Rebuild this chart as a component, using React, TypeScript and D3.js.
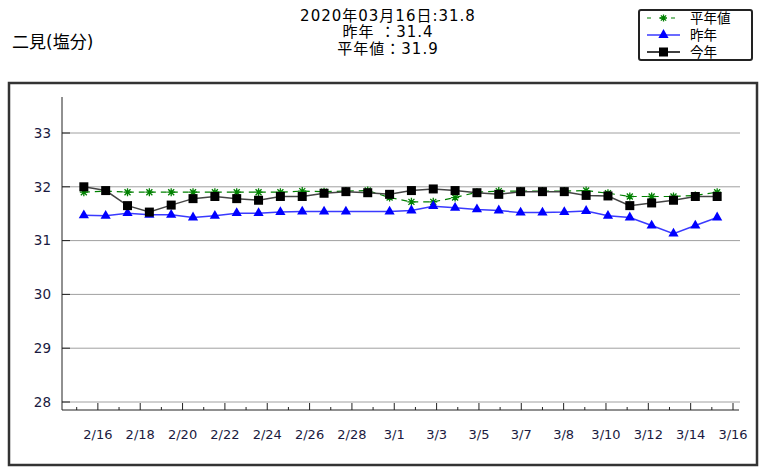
import React, { useEffect, useRef } from 'react';
import * as d3 from 'd3';

// 2/15 .. 3/16 (30 observations)
const heinenValues = [
    31.9, 31.92, 31.9, 31.9, 31.9, 31.9, 31.9, 31.9, 31.9, 31.9,
    31.92, 31.91, 31.92, 31.93, 31.8, 31.72, 31.72, 31.8, 31.9, 31.92,
    31.92, 31.92, 31.92, 31.93, 31.88, 31.82, 31.82, 31.82, 31.84, 31.9,
];
const sakunenValues: (number | null)[] = [
    31.47, 31.46, 31.51, 31.48, 31.48, 31.43, 31.46, 31.51, 31.51, 31.53,
    31.54, 31.54, 31.54, null, 31.54, 31.56, 31.64, 31.61, 31.58, 31.56,
    31.52, 31.52, 31.53, 31.55, 31.46, 31.43, 31.28, 31.13, 31.28, 31.43,
];
const konnenValues = [
    32.0, 31.93, 31.65, 31.53, 31.66, 31.78, 31.82, 31.78, 31.75, 31.82,
    31.82, 31.88, 31.91, 31.89, 31.86, 31.93, 31.96, 31.93, 31.89, 31.86,
    31.91, 31.91, 31.91, 31.84, 31.83, 31.65, 31.70, 31.75, 31.82, 31.82,
];
const xLabels = ['2/16', '2/18', '2/20', '2/22', '2/24', '2/26', '2/28', '3/1', '3/3', '3/5', '3/7', '3/8', '3/10', '3/12', '3/14', '3/16'];
const yTicks = [28, 29, 30, 31, 32, 33];
const titleLines = ['2020年03月16日:31.8', '昨年 ：31.4', '平年値：31.9'];
const stationName = '二見(塩分)';
const legendItems = ['平年値', '昨年', '今年'];

const FONT = "'DejaVu Sans', 'Noto Sans CJK JP', sans-serif";

const starPath = (r: number) =>
    `M${-r},0L${r},0M0,${-r}L0,${r}M${-r * 0.75},${-r * 0.75}L${r * 0.75},${r * 0.75}M${-r * 0.75},${r * 0.75}L${r * 0.75},${-r * 0.75}`;

const App: React.FC = () => {
    const svgRef = useRef<SVGSVGElement>(null);

    useEffect(() => {
        if (!svgRef.current) return;
        const svg = d3.select(svgRef.current);
        svg.selectAll('*').remove();

        const left = 62, right = 739, axisTop = 97, axisBottom = 410;

        // outer frame
        svg.append('rect')
            .attr('x', 9).attr('y', 83).attr('width', 748).attr('height', 382)
            .attr('fill', 'none').attr('stroke', '#333').attr('stroke-width', 2.5);

        const yScale = d3.scaleLinear().domain([28, 33]).range([402, 133]);
        const xScale = d3.scaleLinear().domain([0, heinenValues.length + 1]).range([left, right]);
        const tickIdx = d3.range(xLabels.length * 2);
        const tickScale = d3.scalePoint<number>().domain(tickIdx).range([76.7, 733]);

        // gridlines
        svg.append('g').selectAll('line').data(yTicks).enter().append('line')
            .attr('x1', left).attr('x2', right + 1)
            .attr('y1', d => yScale(d)).attr('y2', d => yScale(d))
            .attr('stroke', '#a0a0a0').attr('stroke-width', 1);
        svg.append('g').selectAll('line').data(yTicks).enter().append('line')
            .attr('x1', left).attr('x2', left + 8)
            .attr('y1', d => yScale(d)).attr('y2', d => yScale(d))
            .attr('stroke', '#222').attr('stroke-width', 1);

        // axes lines
        svg.append('line').attr('x1', left).attr('x2', left).attr('y1', axisTop).attr('y2', axisBottom)
            .attr('stroke', '#222').attr('stroke-width', 1);
        svg.append('line').attr('x1', left).attr('x2', right).attr('y1', axisBottom).attr('y2', axisBottom)
            .attr('stroke', '#222').attr('stroke-width', 1);

        // y labels
        svg.append('g').selectAll('text').data(yTicks).enter().append('text')
            .attr('x', 51).attr('y', d => yScale(d)).attr('dy', '0.35em')
            .attr('text-anchor', 'end').attr('fill', '#1a1a40')
            .style('font-family', FONT).style('font-size', '13.5px')
            .text(d => d);

        // x ticks
        svg.append('g').selectAll('line').data(tickIdx).enter().append('line')
            .attr('x1', d => tickScale(d)!).attr('x2', d => tickScale(d)!)
            .attr('y1', axisBottom).attr('y2', d => axisBottom - (d % 2 === 1 ? 7 : 3))
            .attr('stroke', '#222').attr('stroke-width', 1);
        svg.append('g').selectAll('text').data(xLabels).enter().append('text')
            .attr('x', (_, i) => tickScale(i * 2 + 1)!).attr('y', 434).attr('dy', '0.35em')
            .attr('text-anchor', 'middle').attr('fill', '#1a1a40')
            .style('font-family', FONT).style('font-size', '13px')
            .text(d => d);

        const px = (i: number) => xScale(i + 1);

        // 平年値
        const heinenLine = d3.line<number>().x((_, i) => px(i)).y(d => yScale(d));
        svg.append('path').attr('d', heinenLine(heinenValues)!)
            .attr('fill', 'none').attr('stroke', '#008000').attr('stroke-width', 1.2)
            .attr('stroke-dasharray', '6,5');

        // 昨年
        const sakunenPts = sakunenValues
            .map((v, i) => ({ v, i }))
            .filter(d => d.v !== null) as { v: number; i: number }[];
        const sakunenLine = d3.line<{ v: number; i: number }>().x(d => px(d.i)).y(d => yScale(d.v));
        svg.append('path').attr('d', sakunenLine(sakunenPts)!)
            .attr('fill', 'none').attr('stroke', '#3a3aff').attr('stroke-width', 1.5);

        // 今年
        const konnenLine = d3.line<number>().x((_, i) => px(i)).y(d => yScale(d));
        svg.append('path').attr('d', konnenLine(konnenValues)!)
            .attr('fill', 'none').attr('stroke', '#444').attr('stroke-width', 1.5);

        // markers
        svg.append('g').selectAll('path').data(heinenValues).enter().append('path')
            .attr('transform', (d, i) => `translate(${px(i)},${yScale(d)})`)
            .attr('d', starPath(4))
            .attr('stroke', '#008000').attr('stroke-width', 1.3);
        const tri = d3.symbol().type(d3.symbolTriangle).size(45);
        svg.append('g').selectAll('path').data(sakunenPts).enter().append('path')
            .attr('transform', d => `translate(${px(d.i)},${yScale(d.v)})`)
            .attr('d', tri()!)
            .attr('fill', '#0000ff');
        svg.append('g').selectAll('rect').data(konnenValues).enter().append('rect')
            .attr('x', (_, i) => px(i) - 4.5).attr('y', d => yScale(d) - 4.5)
            .attr('width', 9).attr('height', 9).attr('fill', '#000');

        // titles
        svg.append('g').selectAll('text').data(titleLines).enter().append('text')
            .attr('x', 388).attr('y', (_, i) => 15.5 + i * 16.5).attr('dy', '0.35em')
            .attr('text-anchor', 'middle').attr('fill', '#000')
            .style('font-family', FONT).style('font-size', '15px').style('letter-spacing', '1px')
            .text(d => d);
        svg.append('text').attr('x', 12).attr('y', 42).attr('dy', '0.35em')
            .attr('fill', '#000').style('font-family', FONT).style('font-size', '17px')
            .text(stationName);

        // legend
        const lg = svg.append('g');
        lg.append('rect').attr('x', 639).attr('y', 10).attr('width', 113).attr('height', 50).attr('rx', 2)
            .attr('fill', '#fff').attr('stroke', '#222').attr('stroke-width', 2);
        const rowY = [18, 35, 52];
        legendItems.forEach((name, i) => {
            const y = rowY[i];
            const ln = lg.append('line').attr('x1', 647).attr('x2', 680).attr('y1', y).attr('y2', y)
                .attr('stroke-width', i === 0 ? 1.2 : 1.5);
            if (i === 0) {
                ln.attr('stroke', '#008000').attr('stroke-dasharray', '4,8');
                lg.append('path').attr('transform', `translate(663.5,${y})`).attr('d', starPath(3.5))
                    .attr('stroke', '#008000').attr('stroke-width', 1.3);
            } else if (i === 1) {
                ln.attr('stroke', '#3a3aff');
                lg.append('path').attr('transform', `translate(663.5,${y})`).attr('d', tri()!).attr('fill', '#0000ff');
            } else {
                ln.attr('stroke', '#000');
                lg.append('rect').attr('x', 659).attr('y', y - 4.5).attr('width', 9).attr('height', 9).attr('fill', '#000');
            }
            lg.append('text').attr('x', 690).attr('y', y).attr('dy', '0.35em')
                .style('font-family', FONT).style('font-size', '13.5px').attr('fill', '#000')
                .text(name);
        });
    }, []);

    return (
        <svg ref={svgRef} width={767} height={468}
            style={{ position: 'absolute', left: 0, top: 0, background: '#fff' }} />
    );
};

export default App;
